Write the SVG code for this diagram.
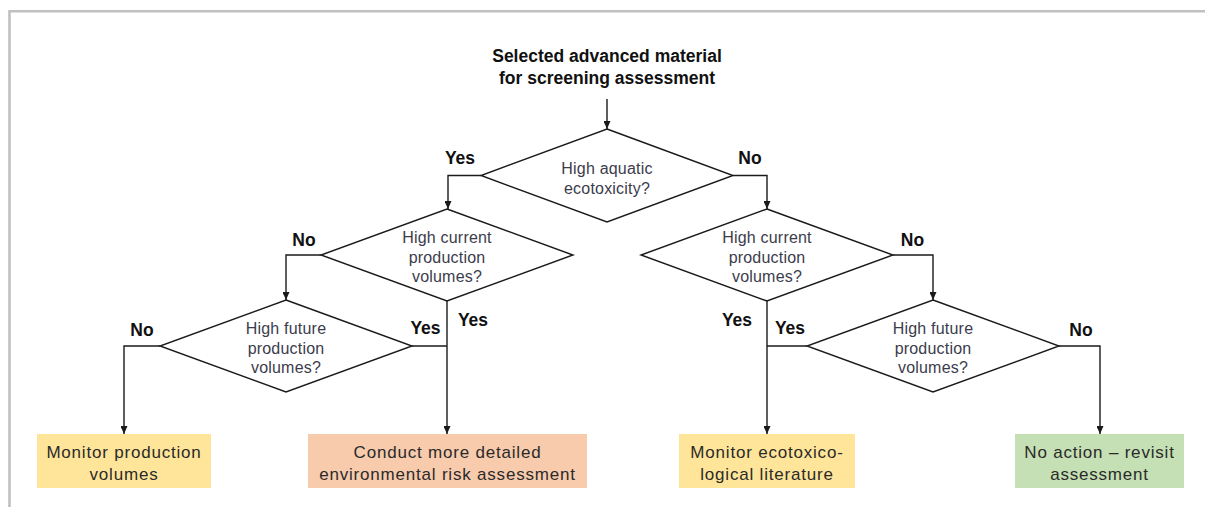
<svg xmlns="http://www.w3.org/2000/svg" width="1205" height="507" viewBox="0 0 1205 507">
<style>
.frame{fill:none;stroke:#c0c0c0;stroke-width:2.6}
.dia{fill:#ffffff;stroke:#1a1a1a;stroke-width:1.4}
.con{fill:none;stroke:#1a1a1a;stroke-width:1.4}
.arr{marker-end:url(#ah)}
.title{font-family:"Liberation Sans",Arial,sans-serif;font-weight:bold;font-size:17.5px;fill:#111;text-anchor:middle}
.lbl{font-family:"Liberation Sans",Arial,sans-serif;font-weight:bold;font-size:17.5px;fill:#111;text-anchor:middle}
.dt{font-family:"Liberation Sans",Arial,sans-serif;font-size:16px;fill:#3c3c4c;text-anchor:middle;letter-spacing:0.2px}
.bt{font-family:"Liberation Sans",Arial,sans-serif;font-size:17px;fill:#2a2a2a;text-anchor:middle;letter-spacing:0.8px}
.yel{fill:#ffe599}
.pea{fill:#f8cbad}
.grn{fill:#c5e0b4}
</style>
<defs>
<marker id="ah" markerWidth="8" markerHeight="7" refX="8" refY="3.5" orient="auto" markerUnits="userSpaceOnUse">
<path d="M0,0 L8,3.5 L0,7 z" fill="#1a1a1a"/>
</marker>
</defs>
<rect width="1205" height="507" fill="#ffffff"/>
<path class="frame" d="M9.5,507 V11.3 H1205"/>

<g id="start">
<text class="title" x="607" y="62">Selected advanced material</text>
<text class="title" x="607" y="84">for screening assessment</text>
</g>

<g id="connectors">
<path class="con arr" d="M607,99 V129"/>
<path class="con arr" d="M481,175.5 H448 V209"/>
<path class="con arr" d="M733,175.5 H767 V209"/>
<path class="con arr" d="M321,255 H286 V300"/>
<path class="con arr" d="M447,301 V434"/>
<path class="con" d="M412,346 H447"/>
<path class="con arr" d="M160,346 H124 V434"/>
<path class="con arr" d="M893,255 H933 V300"/>
<path class="con arr" d="M767,301 V434"/>
<path class="con" d="M807,346 H767"/>
<path class="con arr" d="M1059,346 H1100 V434"/>
<text class="lbl" x="460" y="164">Yes</text>
<text class="lbl" x="750" y="164">No</text>
<text class="lbl" x="304" y="246">No</text>
<text class="lbl" x="473" y="326">Yes</text>
<text class="lbl" x="425.5" y="334">Yes</text>
<text class="lbl" x="142" y="336">No</text>
<text class="lbl" x="912.5" y="246">No</text>
<text class="lbl" x="737" y="326">Yes</text>
<text class="lbl" x="790" y="334">Yes</text>
<text class="lbl" x="1081" y="336">No</text>
</g>

<g id="d1">
<polygon class="dia" points="607,129 733,175.5 607,222 481,175.5"/>
<text class="dt" x="607" y="174">High aquatic</text>
<text class="dt" x="607" y="194">ecotoxicity?</text>
</g>

<g id="d2">
<polygon class="dia" points="447,209 573,255 447,301 321,255"/>
<text class="dt" x="447" y="242.5">High current</text>
<text class="dt" x="447" y="262.5">production</text>
<text class="dt" x="447" y="281.5">volumes?</text>
</g>

<g id="d3">
<polygon class="dia" points="767,209 893,255 767,301 641,255"/>
<text class="dt" x="767" y="242.5">High current</text>
<text class="dt" x="767" y="262.5">production</text>
<text class="dt" x="767" y="281.5">volumes?</text>
</g>

<g id="d4">
<polygon class="dia" points="286,300 412,346 286,392 160,346"/>
<text class="dt" x="286" y="334">High future</text>
<text class="dt" x="286" y="354">production</text>
<text class="dt" x="286" y="373">volumes?</text>
</g>

<g id="d5">
<polygon class="dia" points="933,300 1059,346 933,392 807,346"/>
<text class="dt" x="933" y="334">High future</text>
<text class="dt" x="933" y="354">production</text>
<text class="dt" x="933" y="373">volumes?</text>
</g>

<g id="b1">
<rect class="yel" x="37" y="434" width="174" height="54"/>
<text class="bt" x="124" y="458">Monitor production</text>
<text class="bt" x="124" y="479.5">volumes</text>
</g>

<g id="b2">
<rect class="pea" x="308" y="434" width="279" height="54"/>
<text class="bt" x="447.5" y="458">Conduct more detailed</text>
<text class="bt" x="447.5" y="479.5">environmental risk assessment</text>
</g>

<g id="b3">
<rect class="yel" x="679" y="434" width="176" height="54"/>
<text class="bt" x="767" y="458">Monitor ecotoxico-</text>
<text class="bt" x="767" y="479.5">logical literature</text>
</g>

<g id="b4">
<rect class="grn" x="1015" y="434" width="169" height="54"/>
<text class="bt" x="1099.5" y="458">No action – revisit</text>
<text class="bt" x="1099.5" y="479.5">assessment</text>
</g>
</svg>
